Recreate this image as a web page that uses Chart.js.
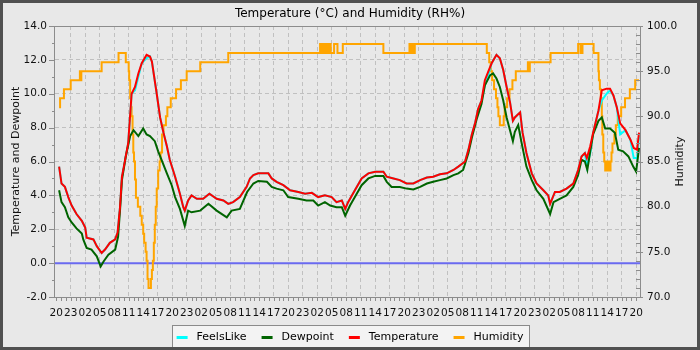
<!DOCTYPE html>
<html>
<head>
<meta charset="utf-8">
<script src="https://cdn.jsdelivr.net/npm/chart.js@4.4.1/dist/chart.umd.min.js"></script>
<style>
html,body{margin:0;padding:0;overflow:hidden;background:#e8e8e8;}
#wrap{width:700px;height:350px;position:relative;}
canvas{display:block;}
</style>
</head>
<body>
<div id="wrap"><canvas id="c" width="700" height="350"></canvas></div>
<script>
// ---------- data (hours since 20:00 of the first day) ----------
const xTickHours = [0,3,6,9,12,15,18,21,24,27,30,33,36,39,42,45,48,51,54,57,60,63,66,69,72,75,78,81,84,87,90,93,96,99,102,105,108,111,114,117,120];
const xTickLabels = ['20','23','02','05','08','11','14','17','20','23','02','05','08','11','14','17','20','23','02','05','08','11','14','17','20','23','02','05','08','11','14','17','20','23','02','05','08','11','14','17','20'];
const leftTicks = [-2,0,2,4,6,8,10,12,14];
const rightTicks = [70,75,80,85,90,95,100];
const zeroLine = [0];

const tempHours = [0.6,1.1,1.8,2.5,3.2,4.2,5.3,6.0,6.3,7.7,8.4,9.4,10.1,11.1,12.2,12.7,13.2,13.6,14.0,14.9,15.6,16.3,17.0,17.7,18.7,19.4,19.8,20.8,21.5,22.2,22.9,23.5,24.6,25.6,26.3,26.6,27.3,28.0,29.1,30.4,31.7,33.2,34.6,35.6,36.6,38.0,39.4,40.1,40.8,41.8,42.9,43.9,44.6,45.6,47.0,48.4,50.1,51.5,52.9,54.2,55.6,57.0,58.0,59.1,59.8,60.4,61.8,63.2,64.6,66.0,67.7,68.4,69.8,71.1,72.5,73.9,75.3,76.7,78.0,79.4,80.8,82.2,83.2,84.6,85.3,86.0,86.7,87.3,88.0,88.7,89.4,90.1,91.1,91.8,92.5,93.2,93.9,94.5,94.9,96.0,96.5,97.3,98.4,99.4,100.8,101.8,102.2,103.2,104.2,105.6,107.0,108.0,108.7,109.4,109.8,110.5,111.1,112.2,112.9,113.9,114.6,115.3,116.0,116.7,117.8,118.8,119.5,120.2,120.6];
const temperature = [5.7,4.7,4.5,3.9,3.4,2.9,2.5,2.1,1.5,1.4,1.0,0.6,0.8,1.2,1.4,1.8,3.3,5.1,5.7,7.1,10.0,10.4,11.2,11.8,12.3,12.2,11.9,10.0,8.6,7.7,6.9,6.1,5.1,4.1,3.3,3.1,3.7,4.0,3.8,3.8,4.1,3.8,3.7,3.5,3.6,3.9,4.5,5.0,5.2,5.3,5.3,5.3,5.0,4.8,4.6,4.3,4.2,4.1,4.15,3.9,4.0,3.9,3.6,3.7,3.2,3.6,4.3,5.0,5.3,5.4,5.4,5.1,5.0,4.9,4.7,4.7,4.9,5.05,5.1,5.25,5.3,5.5,5.7,6.0,6.7,7.6,8.3,9.1,9.6,10.8,11.3,11.8,12.3,12.1,11.4,10.4,9.5,8.4,8.6,8.9,7.7,6.5,5.3,4.7,4.3,4.0,3.5,4.2,4.2,4.4,4.7,5.5,6.3,6.5,6.2,6.9,7.7,9.0,10.2,10.3,10.3,9.9,9.2,8.25,7.85,7.3,6.8,6.7,7.7];
const feelsLike = [5.7,4.7,4.5,3.9,3.4,2.9,2.5,2.1,1.5,1.4,1.0,0.6,0.8,1.2,1.4,1.8,3.3,5.1,5.7,7.1,10.0,10.2,11.0,11.8,12.1,12.2,11.9,10.0,8.6,7.7,6.9,6.1,5.1,4.1,3.3,3.1,3.7,4.0,3.8,3.8,4.1,3.8,3.7,3.5,3.6,3.9,4.5,5.0,5.2,5.3,5.3,5.3,5.0,4.8,4.6,4.3,4.2,4.1,4.15,3.9,4.0,3.9,3.6,3.7,3.2,3.6,4.3,5.0,5.3,5.4,5.4,5.1,5.0,4.9,4.7,4.7,4.9,5.05,5.1,5.25,5.3,5.5,5.7,6.0,6.7,7.6,8.3,9.1,9.6,10.5,11.1,11.8,12.3,12.1,11.4,10.4,9.5,8.4,8.6,8.9,7.7,6.5,5.3,4.7,4.3,4.0,3.5,4.2,4.2,4.4,4.7,5.5,6.3,6.5,5.7,6.5,7.7,9.0,9.6,10.0,10.2,9.9,9.2,7.6,7.85,7.3,6.2,6.2,7.5];

const dewHours = [0.6,1.1,1.8,2.5,3.2,4.2,5.3,5.6,6.3,7.3,8.4,9.2,9.8,10.8,12.2,12.8,13.2,13.6,14.4,15.3,16.0,17.0,18.0,18.7,19.4,20.4,21.1,21.8,22.9,23.9,24.6,25.6,26.6,27.3,28.0,29.8,31.5,33.2,35.3,36.3,38.0,39.5,40.8,41.8,43.6,44.6,45.6,47.0,48.0,50.1,51.8,53.2,54.2,55.6,56.7,58.0,59.1,59.8,60.8,61.8,63.2,64.6,66.0,67.7,68.4,69.4,71.1,72.5,73.9,75.3,76.7,78.0,79.4,80.8,82.2,83.2,84.2,85.3,86.0,87.0,88.0,88.7,89.8,90.4,91.1,91.8,92.5,93.2,93.9,94.5,94.9,95.6,96.3,97.3,98.4,99.4,100.8,102.2,102.9,104.2,105.6,107.0,108.0,108.7,109.4,109.9,110.5,111.1,112.2,112.9,113.6,114.6,115.6,116.3,117.3,118.4,119.4,120.0,120.6];
const dewpoint = [4.3,3.6,3.3,2.7,2.4,2.05,1.75,1.4,0.9,0.8,0.4,-0.2,0.1,0.5,0.8,1.55,3.1,4.9,6.3,7.5,7.85,7.5,7.95,7.6,7.5,7.2,6.6,6.1,5.3,4.6,3.9,3.2,2.2,3.1,3.0,3.1,3.5,3.1,2.7,3.1,3.2,4.2,4.7,4.85,4.8,4.5,4.4,4.3,3.9,3.8,3.7,3.7,3.4,3.6,3.4,3.3,3.3,2.8,3.4,3.9,4.6,5.0,5.15,5.15,4.8,4.5,4.5,4.4,4.35,4.5,4.7,4.8,4.9,5.0,5.2,5.3,5.5,6.5,7.4,8.5,9.4,10.5,11.1,11.2,10.9,10.4,9.6,8.6,7.85,7.2,7.75,8.15,7.1,5.7,4.9,4.3,3.8,2.9,3.6,3.8,4.0,4.5,5.2,6.1,6.0,5.5,6.6,7.6,8.4,8.6,7.95,7.95,7.7,6.7,6.6,6.3,5.7,5.4,6.8];

const humHours = [0.6,0.8,1.6,3.0,4.9,5.05,5.2,9.4,12.9,14.4,15.0,15.1,15.3,15.5,15.6,15.8,15.95,16.1,16.3,16.5,16.9,17.4,17.7,18.0,18.2,18.5,18.7,18.9,19.1,19.6,19.8,20.0,20.2,20.4,20.6,20.8,21.1,21.4,21.6,21.9,22.2,22.7,23.0,23.7,24.8,25.8,27.0,29.8,35.6,54.6,55.0,55.3,55.7,56.0,56.4,56.6,56.8,57.5,58.2,59.3,67.7,73.1,73.4,73.7,74.0,74.2,89.1,89.6,89.9,90.2,90.6,91.0,91.3,91.5,91.8,92.6,92.8,93.3,93.8,94.4,95.1,97.6,97.8,98.0,102.3,108.0,108.5,108.9,111.2,112.2,112.3,112.5,112.7,112.9,113.0,113.2,113.4,113.6,114.0,114.3,114.7,114.9,115.1,115.5,115.8,116.2,116.9,117.7,118.7,119.8,120.6];
const humidity = [91,92,93,94,95,94,95,96,97,96,95,94,92,91,90,88,86,85,83,81,80,79,78,77,76,75,74,72,71,72,73,74,76,78,80,82,84,85,86,88,89,90,91,92,93,94,95,96,97,98,97,98,97,98,97,98,97,98,97,98,97,98,97,98,97,98,97,96,95,94,93,92,91,90,89,90,91,92,93,94,95,96,95,96,97,98,97,98,97,95,94,93,92,90,88,86,85,84,85,84,85,86,87,88,89,90,91,92,93,94,94];

// ---------- chart ----------
Chart.defaults.font.family = "'DejaVu Sans', sans-serif";
Chart.defaults.color = '#111';

const pts = (hs, vs) => hs.map((h, i) => ({x: h, y: vs[i]}));
const GRID = '#c0c0c0';
const AXIS = '#8c8c8c';

const decor = {
  id: 'decor',
  beforeDraw(chart) {
    const ctx = chart.ctx;
    ctx.save();
    ctx.fillStyle = '#e8e8e8';
    ctx.fillRect(0, 0, chart.width, chart.height);
    const lg = chart.legend;
    if (lg && lg.legendHitBoxes && lg.legendHitBoxes.length) {
      const hb = lg.legendHitBoxes;
      const last = hb[hb.length - 1];
      const l = Math.round(hb[0].left - 5) + 0.5;
      const r = Math.round(last.left + last.width + 6) + 0.5;
      const t = Math.round(hb[0].top - 7.5) + 0.5;
      ctx.fillStyle = '#f3f3f3';
      ctx.fillRect(l, t, r - l, 30);
      ctx.strokeStyle = '#8a8a8a';
      ctx.lineWidth = 1;
      ctx.strokeRect(l, t, r - l, 30);
    }
    ctx.restore();
  },
  beforeDatasetsDraw(chart) {
    const {ctx, chartArea: a, scales: {y}} = chart;
    const py = y.getPixelForValue(zeroLine[0]);
    ctx.save();
    ctx.strokeStyle = '#6a6af0';
    ctx.lineWidth = 2;
    ctx.beginPath();
    ctx.moveTo(a.left, py);
    ctx.lineTo(a.right, py);
    ctx.stroke();
    ctx.restore();
  },
  afterDraw(chart) {
    const {ctx, chartArea: a, scales: {x, y, y1}} = chart;
    ctx.save();
    ctx.strokeStyle = AXIS;
    ctx.lineWidth = 1;
    ctx.beginPath();
    for (let h = xTickHours[0]; h <= xTickHours[xTickHours.length - 1]; h += 1) {
      const px = Math.round(x.getPixelForValue(h)) + 0.5;
      ctx.moveTo(px, a.bottom);
      ctx.lineTo(px, a.bottom + 4);
    }
    for (let v = leftTicks[0]; v <= leftTicks[leftTicks.length - 1]; v += 1) {
      const py = Math.round(y.getPixelForValue(v)) + 0.5;
      const len = (v % 2 === 0) ? 6 : 3;
      ctx.moveTo(a.left - len, py);
      ctx.lineTo(a.left, py);
    }
    for (let v = rightTicks[0]; v <= rightTicks[rightTicks.length - 1]; v += 1) {
      const py = Math.round(y1.getPixelForValue(v)) + 0.5;
      if (v % 5 === 0) { ctx.moveTo(a.right - 4, py); ctx.lineTo(a.right + 3, py); }
      else { ctx.moveTo(a.right - 4, py); ctx.lineTo(a.right, py); }
    }
    ctx.stroke();
    ctx.strokeStyle = AXIS;
    ctx.strokeRect(Math.round(a.left) - 0.5, Math.round(a.top) + 0.5, Math.round(a.right - a.left) + 1, Math.round(a.bottom - a.top));
    ctx.fillStyle = '#111';
    ctx.font = "11px 'DejaVu Sans', sans-serif";
    ctx.textAlign = 'center';
    ctx.textBaseline = 'middle';
    ctx.translate(y1.right - 19.5, (y1.top + y1.bottom) / 2);
    ctx.rotate(-Math.PI / 2);
    ctx.fillText('Humidity', 0, 0);
    ctx.restore();
    ctx.save();
    ctx.strokeStyle = '#505050';
    ctx.lineWidth = 3;
    ctx.strokeRect(1.5, 1.5, chart.width - 3, chart.height - 3);
    ctx.restore();
  }
};

const lineDs = (label, data, color, order, axis) => ({
  label, data, borderColor: color, backgroundColor: color,
  borderWidth: 2, pointRadius: 0, tension: 0, order, yAxisID: axis
});

new Chart(document.getElementById('c'), {
  type: 'line',
  data: {
    datasets: [
      lineDs('FeelsLike', pts(tempHours, feelsLike), '#00ffff', 3, 'y'),
      lineDs('Dewpoint', pts(dewHours, dewpoint), '#006400', 2, 'y'),
      lineDs('Temperature', pts(tempHours, temperature), '#ff0000', 1, 'y'),
      Object.assign(lineDs('Humidity', pts(humHours, humidity), '#ffa500', 4, 'y1'), {stepped: 'before'})
    ]
  },
  options: {
    responsive: false,
    animation: false,
    devicePixelRatio: 1,
    events: [],
    layout: {padding: {top: 0, bottom: -3, left: 0, right: 0}},
    plugins: {
      tooltip: {enabled: false},
      title: {
        display: true,
        text: 'Temperature (°C) and Humidity (RH%)',
        color: '#000',
        font: {size: 12, weight: 'normal'},
        padding: {top: 6.5, bottom: 5.1}
      },
      legend: {
        position: 'bottom',
        labels: {
          boxWidth: 11, boxHeight: 3, padding: 15, color: '#000',
          font: {size: 11},
          sort: (a, b) => a.datasetIndex - b.datasetIndex,
          generateLabels(chart) {
            return Chart.defaults.plugins.legend.labels.generateLabels(chart).map(it => {
              it.text = ' ' + it.text;
              it.lineWidth = 0;
              it.strokeStyle = 'rgba(0,0,0,0)';
              return it;
            });
          }
        }
      }
    },
    scales: {
      x: {
        type: 'linear',
        position: 'bottom',
        min: -0.25,
        max: 120.8,
        afterBuildTicks(s) { s.ticks = xTickHours.map(v => ({value: v})); },
        afterFit(s) { s.height = 20; },
        ticks: {
          autoSkip: false, maxRotation: 0, minRotation: 0, padding: 10,
          font: {size: 10.5}, color: '#111',
          callback: (v, i) => xTickLabels[i]
        },
        grid: {
          drawTicks: false,
          color: c => (c.tick && c.tick.value === xTickHours[0]) ? 'rgba(0,0,0,0)' : GRID
        },
        border: {display: false, dash: [4, 3]}
      },
      y: {
        type: 'linear',
        position: 'left',
        min: leftTicks[0],
        max: leftTicks[leftTicks.length - 1],
        afterBuildTicks(s) { s.ticks = leftTicks.map(v => ({value: v})); },
        afterFit(s) { s.width = 55; },
        ticks: {padding: 8, font: {size: 10.5}, color: '#111', callback: v => Number(v).toFixed(1)},
        grid: {drawTicks: false, color: GRID},
        border: {display: false, dash: [4, 3]},
        title: {display: true, text: 'Temperature and Dewpoint', color: '#111', font: {size: 11}, padding: {top: 9.2, bottom: 0}}
      },
      y1: {
        type: 'linear',
        position: 'right',
        min: rightTicks[0],
        max: rightTicks[rightTicks.length - 1],
        afterBuildTicks(s) { s.ticks = rightTicks.map(v => ({value: v})); },
        afterFit(s) { s.width = 60; },
        ticks: {padding: 7, font: {size: 10.5}, color: '#111', callback: v => Number(v).toFixed(1)},
        grid: {drawTicks: false, drawOnChartArea: false},
        border: {display: false}
      }
    }
  },
  plugins: [decor]
});
</script>
</body>
</html>
